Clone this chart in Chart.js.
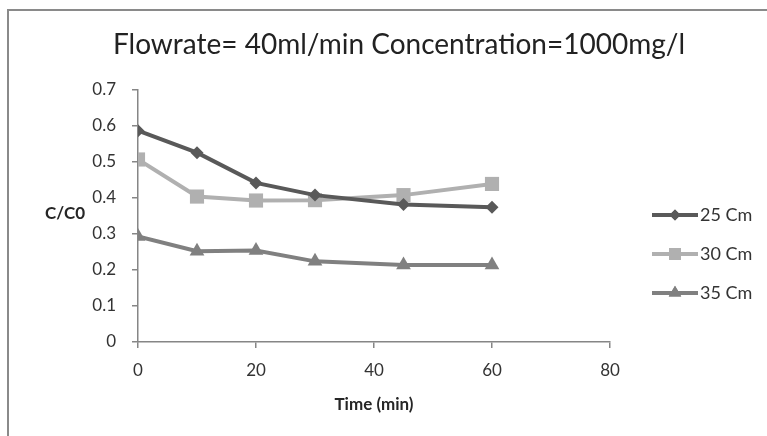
<!DOCTYPE html>
<html>
<head>
<meta charset="utf-8">
<style>
  html, body { margin: 0; padding: 0; background: #fff; }
  #wrap { position: relative; width: 767px; height: 436px; overflow: hidden; }
  #frame {
    position: absolute; left: 7px; top: 9px; right: -10px; bottom: -10px;
    border-top: 2px solid #8a8a8a; border-left: 2px solid #8a8a8a;
  }
  canvas { position: absolute; left: 0; top: 0; }
</style>
<script src="https://cdn.jsdelivr.net/npm/chart.js@4.4.1/dist/chart.umd.min.js"></script>
</head>
<body>
<div id="wrap">
  <div id="frame"></div>
  <canvas id="chart" width="767" height="436"></canvas>
</div>
<script>
// Values
const chartTitle = 'Flowrate= 40ml/min Concentration=1000mg/l';
const yTitle = 'C/C0';
const xTitle = 'Time (min)';
const times = [0, 10, 20, 30, 45, 60];
const seriesLabels = ['25 Cm', '30 Cm', '35 Cm'];
const cm25 = [0.587, 0.526, 0.442, 0.408, 0.382, 0.374];
const cm30 = [0.507, 0.404, 0.393, 0.394, 0.408, 0.439];
const cm35 = [0.293, 0.252, 0.254, 0.224, 0.214, 0.214];
const xTicks = [0, 20, 40, 60, 80];
const yTicks = [0, 0.1, 0.2, 0.3, 0.4, 0.5, 0.6, 0.7];

const FONT = 'Lato, "Open Sans", sans-serif';
const AXIS_GREY = '#868686';

function points(values) {
    return values.map((v, i) => ({ x: times[i], y: v }));
}

function makeSet(label, values, color, style, radius) {
    return {
        label: label,
        data: points(values),
        borderColor: color,
        backgroundColor: color,
        borderWidth: 4,
        pointStyle: style,
        pointRadius: radius,
        pointBorderWidth: 0,
        pointBackgroundColor: color,
        tension: 0
    };
}

// Title, horizontal y-axis label and Excel-style legend (line + marker)
const decorPlugin = {
    id: 'decor',
    afterDraw(chart) {
        const ctx = chart.ctx;
        ctx.save();

        ctx.fillStyle = '#222';
        ctx.font = '28px ' + FONT;
        ctx.textAlign = 'center';
        ctx.textBaseline = 'alphabetic';
        ctx.fillText(chartTitle, 399, 54);

        ctx.font = 'bold 17px ' + FONT;
        ctx.fillStyle = '#262626';
        ctx.textBaseline = 'middle';
        ctx.fillText(yTitle, 65, 214);

        chart.data.datasets.forEach((ds, i) => {
            const y = 215 + 39 * i;
            ctx.strokeStyle = ds.borderColor;
            ctx.lineWidth = 4;
            ctx.beginPath();
            ctx.moveTo(652, y);
            ctx.lineTo(698, y);
            ctx.stroke();
            ctx.fillStyle = ds.borderColor;
            Chart.helpers.drawPoint(ctx, {
                pointStyle: ds.pointStyle,
                radius: ds.pointRadius * 0.85,
                borderWidth: 0
            }, 675, y);
            ctx.fill();
            ctx.fillStyle = '#333';
            ctx.font = '18px ' + FONT;
            ctx.textAlign = 'left';
            ctx.fillText(ds.label, 700, y);
        });
        ctx.restore();
    }
};

new Chart(document.getElementById('chart'), {
    type: 'line',
    data: {
        datasets: [
            makeSet(seriesLabels[0], cm25, '#595959', 'rectRot', 6.5),
            makeSet(seriesLabels[1], cm30, '#b0b0b0', 'rect', 10),
            makeSet(seriesLabels[2], cm35, '#808080', 'triangle', 8.5)
        ]
    },
    options: {
        responsive: false,
        animation: false,
        layout: { padding: { top: 90, left: 78, right: 157, bottom: 14 } },
        plugins: {
            legend: { display: false },
            title: { display: false },
            tooltip: { enabled: false }
        },
        scales: {
            x: {
                type: 'linear',
                min: 0,
                max: 80,
                afterFit: (scale) => { scale.height = 80; },
                afterBuildTicks: (scale) => { scale.ticks = xTicks.map(v => ({ value: v })); },
                grid: { drawOnChartArea: false, drawTicks: true, tickLength: 6, color: AXIS_GREY, lineWidth: 1.5 },
                border: { color: AXIS_GREY, width: 1.5 },
                ticks: { color: '#333', font: { family: FONT, size: 17 }, padding: 12, maxRotation: 0 },
                title: {
                    display: true,
                    text: xTitle,
                    color: '#262626',
                    font: { family: FONT, size: 17, weight: 'bold' },
                    padding: { top: 0, bottom: 7 }
                }
            },
            y: {
                min: 0,
                max: 0.7,
                afterFit: (scale) => { scale.width = 60; },
                afterBuildTicks: (scale) => { scale.ticks = yTicks.map(v => ({ value: v })); },
                grid: { drawOnChartArea: false, drawTicks: true, tickLength: 6, color: AXIS_GREY, lineWidth: 1.5 },
                border: { color: AXIS_GREY, width: 1.5 },
                ticks: { color: '#333', font: { family: FONT, size: 17 }, padding: 16 }
            }
        }
    },
    plugins: [decorPlugin]
});
</script>
</body>
</html>
